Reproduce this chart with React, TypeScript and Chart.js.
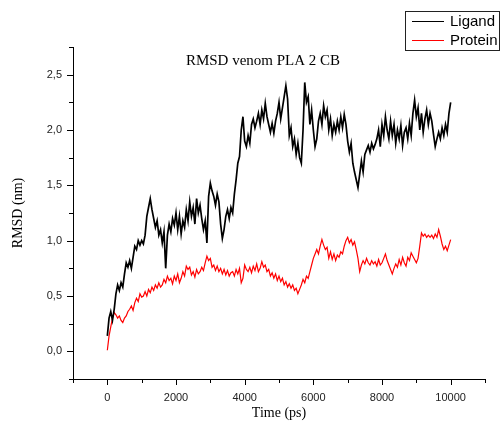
import React, { useEffect, useRef } from "react";
import { Chart, registerables } from "chart.js";

Chart.register(...registerables);

// ---- data ----
const TIME_STEP_PS = 50; // samples every 50 ps, from 0 to 10000 ps

const LIGAND_RMSD = [
  0.14, 0.30, 0.36, 0.28, 0.38, 0.52, 0.60, 0.55, 0.62, 0.58,
  0.70, 0.80, 0.76, 0.82, 0.75, 0.85, 0.95, 0.92, 1.00, 0.96,
  1.00, 0.97, 1.05, 1.22, 1.30, 1.38, 1.28, 1.20, 1.12, 1.18,
  1.05, 1.10, 0.98, 1.08, 0.75, 1.05, 1.15, 1.08, 1.20, 1.14,
  1.25, 1.10, 1.22, 1.06, 1.18, 1.12, 1.28, 1.18, 1.35, 1.22,
  1.30, 1.15, 1.38, 1.25, 1.32, 1.20, 1.10, 1.18, 0.98, 1.40,
  1.52, 1.45, 1.40, 1.32, 1.42, 1.35, 1.15, 1.02, 1.10, 1.22,
  1.28, 1.20, 1.30, 1.25, 1.42, 1.55, 1.70, 1.76, 2.00, 2.12,
  1.90, 1.85, 1.95, 1.88, 2.05, 2.10, 2.02, 2.08, 2.15, 2.05,
  2.18, 2.10, 2.24, 2.12, 2.05, 1.98, 2.06, 1.97, 2.08, 2.15,
  2.25, 2.10, 2.20, 2.30, 2.40, 2.28, 1.95, 2.02, 1.85, 1.92,
  1.78, 1.88, 1.75, 1.70, 2.00, 2.43, 2.25, 2.30, 2.05, 2.18,
  2.00, 1.85, 1.92, 2.08, 2.15, 2.05, 2.22, 2.12, 2.18, 2.00,
  2.10, 1.95, 2.05, 1.98, 2.08, 2.00, 2.12, 2.02, 2.14, 2.05,
  1.90, 1.80, 1.88, 1.70, 1.62, 1.55, 1.48, 1.60, 1.72, 1.62,
  1.78, 1.82, 1.86, 1.80, 1.88, 1.83, 1.87, 1.92, 2.00, 1.85,
  2.05, 1.95, 2.12, 2.00, 1.92, 2.08, 1.95, 2.05, 1.88, 2.00,
  1.92, 2.04, 1.86, 1.98, 2.02, 1.92, 2.06, 1.95, 2.15, 2.27,
  2.12, 2.20, 2.00, 2.15, 1.98, 2.10, 2.18, 2.05, 2.15, 2.08,
  1.96, 1.85, 1.92, 1.98, 1.92, 2.02, 1.95, 2.05, 1.98, 2.15,
  2.25,
];

const PROTEIN_RMSD = [
  0.01, 0.14, 0.22, 0.30, 0.35, 0.33, 0.30, 0.32, 0.28, 0.26,
  0.30, 0.32, 0.36, 0.38, 0.41, 0.37, 0.44, 0.48, 0.45, 0.52,
  0.49, 0.50, 0.54, 0.50, 0.56, 0.53, 0.58, 0.55, 0.60, 0.57,
  0.62, 0.58, 0.60, 0.65, 0.62, 0.68, 0.64, 0.66, 0.61, 0.68,
  0.64, 0.70, 0.62, 0.66, 0.72, 0.68, 0.77, 0.74, 0.76, 0.69,
  0.72, 0.67, 0.74, 0.70, 0.72, 0.76, 0.73, 0.80, 0.86, 0.82,
  0.84, 0.76, 0.78, 0.73, 0.77, 0.72, 0.75, 0.70, 0.74, 0.69,
  0.73, 0.68, 0.71, 0.72, 0.68, 0.74, 0.70, 0.75, 0.62, 0.66,
  0.78, 0.74, 0.72, 0.76, 0.71, 0.77, 0.73, 0.79, 0.72, 0.75,
  0.81, 0.76, 0.78, 0.72, 0.74, 0.68, 0.71, 0.66, 0.70, 0.64,
  0.68, 0.63, 0.66, 0.60, 0.63, 0.58, 0.61, 0.57, 0.60, 0.55,
  0.57, 0.52, 0.56, 0.60, 0.65, 0.62, 0.68, 0.66, 0.72, 0.78,
  0.84, 0.88, 0.92, 0.88, 0.95, 1.01, 0.96, 0.92, 0.94, 0.84,
  0.90, 0.83, 0.88, 0.82, 0.87, 0.85, 0.90, 0.88, 0.95, 1.00,
  1.03, 0.98, 1.01, 0.96, 0.99, 0.92, 0.84, 0.72, 0.78, 0.82,
  0.79, 0.84, 0.80, 0.78, 0.82, 0.79, 0.81, 0.77, 0.83, 0.78,
  0.80, 0.84, 0.88, 0.82, 0.78, 0.74, 0.70, 0.75, 0.79, 0.76,
  0.83, 0.78, 0.85, 0.80, 0.77, 0.85, 0.82, 0.89, 0.86, 0.83,
  0.80, 0.84, 0.95, 1.07, 1.04, 1.06, 1.03, 1.05, 1.03, 1.05,
  1.02, 1.06, 1.03, 1.10, 1.04, 0.97, 0.92, 0.95, 0.91, 0.96,
  1.01,
];

const SERIES_LABELS = ["Ligand", "Protein"];
const SERIES_COLORS = ["#000000", "#ff0000"];
const SERIES_WIDTHS = [1.7, 1.2];
const CHART_TITLE = "RMSD venom PLA 2 CB";
const X_TITLE = "Time (ps)";
const Y_TITLE = "RMSD (nm)";

const X_MIN = -1000;
const X_MAX = 11000;
const X_TICK_STEP = 1000;
const X_LABEL_STEP = 2000;
const X_LABEL_MIN = 0;
const X_LABEL_MAX = 10000;

const Y_MIN = -0.25;
const Y_MAX = 2.75;
const Y_TICK_STEP = 0.25;
const Y_LABEL_STEP = 0.5;
const Y_LABEL_MIN = 0;

const SANS = "'Liberation Sans', Arial, sans-serif";
const SERIF = "'Liberation Serif', 'Times New Roman', serif";

function isMultiple(v: number, step: number) {
  const r = v / step;
  return Math.abs(r - Math.round(r)) < 1e-6;
}

const tickMarksPlugin = {
  id: "tickMarks",
  afterDraw(chart: any) {
    const ctx = chart.ctx;
    const xs = chart.scales.x;
    const ys = chart.scales.y;
    ctx.save();
    ctx.strokeStyle = "#000";
    ctx.lineWidth = 1;
    ctx.beginPath();
    xs.ticks.forEach((t: any) => {
      const px = Math.round(xs.getPixelForValue(t.value)) + 0.5;
      const len = isMultiple(t.value, X_LABEL_STEP) ? 6 : 4;
      ctx.moveTo(px, xs.top);
      ctx.lineTo(px, xs.top + len);
    });
    ys.ticks.forEach((t: any) => {
      const py = Math.round(ys.getPixelForValue(t.value)) + 0.5;
      const len = isMultiple(t.value, Y_LABEL_STEP) ? 6 : 4;
      ctx.moveTo(ys.right, py);
      ctx.lineTo(ys.right - len, py);
    });
    ctx.stroke();
    ctx.restore();
  },
};

const titleAndLegendPlugin = {
  id: "titleAndLegend",
  afterDraw(chart: any) {
    const ctx = chart.ctx;
    const ca = chart.chartArea;
    ctx.save();
    // title inside plot area
    ctx.fillStyle = "#000";
    ctx.font = `15px ${SERIF}`;
    ctx.textAlign = "center";
    ctx.textBaseline = "middle";
    ctx.fillText(CHART_TITLE, ca.left + 190, ca.top + 14);

    // legend box
    const bx = 405.5, by = 11.5, bw = 94, bh = 39;
    ctx.fillStyle = "#fff";
    ctx.fillRect(bx, by, bw, bh);
    ctx.strokeStyle = "#222";
    ctx.lineWidth = 1;
    ctx.strokeRect(bx, by, bw, bh);
    ctx.font = `15px ${SANS}`;
    ctx.textAlign = "left";
    chart.data.datasets.forEach((ds: any, i: number) => {
      const y = 21 + i * 19;
      ctx.strokeStyle = ds.borderColor;
      ctx.lineWidth = 1;
      ctx.beginPath();
      ctx.moveTo(412, y + 0.5);
      ctx.lineTo(444, y + 0.5);
      ctx.stroke();
      ctx.fillStyle = "#000";
      ctx.fillText(ds.label, 450, y + 1);
    });
    ctx.restore();
  },
};

export default function App() {
  const canvasRef = useRef<HTMLCanvasElement | null>(null);

  useEffect(() => {
    if (!canvasRef.current) return;
    const series = [LIGAND_RMSD, PROTEIN_RMSD];
    const chart = new Chart(canvasRef.current, {
      type: "line",
      data: {
        datasets: series.map((vals, k) => ({
          label: SERIES_LABELS[k],
          data: vals.map((v, i) => ({ x: i * TIME_STEP_PS, y: v })),
          borderColor: SERIES_COLORS[k],
          backgroundColor: SERIES_COLORS[k],
          borderWidth: SERIES_WIDTHS[k],
          pointRadius: 0,
          tension: 0,
          fill: false,
        })),
      },
      options: {
        animation: false,
        responsive: false,
        layout: { padding: { top: 47, right: 15, left: 0, bottom: 0 } },
        plugins: {
          legend: { display: false },
          title: { display: false },
          tooltip: { enabled: false },
        },
        scales: {
          x: {
            type: "linear",
            min: X_MIN,
            max: X_MAX,
            grid: { display: false, drawTicks: false },
            border: { display: true, color: "#000", width: 1 },
            afterFit: (s: any) => {
              s.height = 50;
            },
            ticks: {
              stepSize: X_TICK_STEP,
              autoSkip: false,
              maxRotation: 0,
              padding: 12,
              color: "#222",
              font: { family: SANS, size: 11 },
              callback: (v: any) => {
                const n = Number(v);
                return isMultiple(n, X_LABEL_STEP) && n >= X_LABEL_MIN && n <= X_LABEL_MAX
                  ? String(n)
                  : "";
              },
            },
            title: {
              display: true,
              text: X_TITLE,
              color: "#000",
              font: { family: SERIF, size: 14 },
              padding: { top: 0, bottom: 7 },
            },
          },
          y: {
            type: "linear",
            min: Y_MIN,
            max: Y_MAX,
            grid: { display: false, drawTicks: false },
            border: { display: true, color: "#000", width: 1 },
            afterFit: (s: any) => {
              s.width = 73;
            },
            ticks: {
              stepSize: Y_TICK_STEP,
              autoSkip: false,
              padding: 11,
              color: "#222",
              font: { family: SANS, size: 11 },
              callback: (v: any) => {
                const n = Number(v);
                return isMultiple(n, Y_LABEL_STEP) && n >= Y_LABEL_MIN - 1e-9
                  ? n.toFixed(1).replace(".", ",")
                  : "";
              },
            },
            title: {
              display: true,
              text: Y_TITLE,
              color: "#000",
              font: { family: SERIF, size: 14 },
              padding: { top: 10, bottom: 0 },
            },
          },
        },
      },
      plugins: [tickMarksPlugin, titleAndLegendPlugin],
    } as any);
    return () => chart.destroy();
  }, []);

  return (
    <div style={{ position: "absolute", left: 0, top: 0, width: 500, height: 429, background: "#fff" }}>
      <canvas ref={canvasRef} width={500} height={429} style={{ display: "block" }} />
    </div>
  );
}
